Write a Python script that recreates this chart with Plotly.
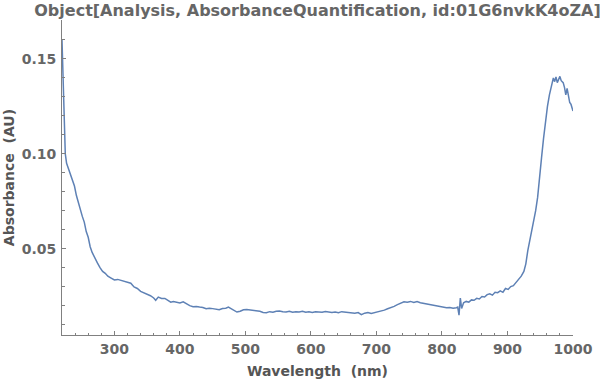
import plotly.graph_objects as go

wavelength_nm = [
    220, 221, 222, 223, 224, 225, 227, 230, 233, 236, 239, 242, 245, 248, 251, 254, 257, 260,
    263, 266, 270, 274, 278, 282, 286, 290, 295, 300, 305, 310, 315, 320, 325, 330, 335, 340,
    345, 350, 355, 360, 363, 367, 372, 377, 382, 386, 390, 395, 400, 405, 410, 415, 420, 425,
    430, 435, 440, 445, 450, 455, 460, 465, 470, 474, 478, 482, 487, 492, 497, 502, 507, 512,
    517, 522, 527, 532, 537, 542, 547, 552, 557, 562, 567, 572, 577, 582, 587, 592, 597, 602,
    607, 612, 617, 622, 627, 632, 637, 642, 647, 652, 657, 662, 667, 672, 677, 682, 687, 692,
    697, 702, 707, 712, 717, 722, 727, 732, 737, 742, 747, 752, 757, 762, 767, 772, 777, 782,
    787, 792, 797, 802, 807, 812, 817, 822, 824, 826, 828, 830, 833, 837, 841, 845, 849, 853,
    857, 861, 865, 869, 873, 877, 881, 885, 889, 893, 897, 901, 905, 909, 913, 917, 921, 925,
    928, 931, 934, 937, 940, 943, 946, 949, 952, 955, 958, 961, 964, 967, 970, 972, 974, 976,
    978, 980, 982, 985, 987, 989, 991, 993, 995, 997, 1000,
]

absorbance_au = [
    0.160, 0.148, 0.136, 0.120, 0.108, 0.100, 0.095, 0.092, 0.089, 0.086, 0.083, 0.078, 0.074,
    0.071, 0.067, 0.064, 0.059, 0.056, 0.051, 0.048, 0.045, 0.0425, 0.040, 0.038, 0.037, 0.0355,
    0.0345, 0.0335, 0.0338, 0.0332, 0.0330, 0.0322, 0.0318, 0.0298, 0.0290, 0.0275, 0.0268,
    0.0262, 0.0252, 0.0240, 0.0228, 0.0245, 0.0238, 0.0238, 0.0228, 0.0218, 0.0222, 0.0219,
    0.0214, 0.0220, 0.0208, 0.0200, 0.0194, 0.0195, 0.0192, 0.0190, 0.0183, 0.0186, 0.0184,
    0.0180, 0.0178, 0.0185, 0.0186, 0.0192, 0.0184, 0.0175, 0.0166, 0.0170, 0.0178, 0.0179,
    0.0177, 0.0174, 0.0172, 0.0170, 0.0164, 0.0162, 0.0168, 0.0165, 0.0170, 0.0172, 0.0168,
    0.0166, 0.0170, 0.0165, 0.0168, 0.0166, 0.0170, 0.0165, 0.0167, 0.0164, 0.0168, 0.0166,
    0.0165, 0.0169, 0.0167, 0.0163, 0.0166, 0.0162, 0.0168, 0.0166, 0.0164, 0.0165, 0.0160,
    0.0163, 0.0152, 0.0160, 0.0164, 0.0158, 0.0162, 0.0166, 0.0170, 0.0176, 0.0183, 0.0188,
    0.0196, 0.0205, 0.0214, 0.0220, 0.0218, 0.0222, 0.0216, 0.0221, 0.0215, 0.0212, 0.0208,
    0.0205, 0.0202, 0.0198, 0.0195, 0.0192, 0.0188, 0.0190, 0.0186, 0.0189, 0.0192, 0.0150,
    0.0240, 0.0185, 0.0215, 0.0222, 0.0218, 0.0230, 0.0228, 0.0238, 0.0235, 0.0248, 0.0245,
    0.0258, 0.0262, 0.0255, 0.0270, 0.0268, 0.0278, 0.0270, 0.0290, 0.0285, 0.0300, 0.0305,
    0.0320, 0.0335, 0.0355, 0.0380, 0.0420, 0.0490, 0.0540, 0.0590, 0.0640, 0.0700, 0.0770,
    0.0860, 0.0980, 0.1080, 0.1170, 0.1250, 0.1310, 0.1355, 0.1400, 0.1380, 0.1405, 0.1375,
    0.1390, 0.1408, 0.1385, 0.1375, 0.1350, 0.1310, 0.1345, 0.1300, 0.1270, 0.1260, 0.1225,
]

x_tick_values = [300, 400, 500, 600, 700, 800, 900, 1000]
x_tick_labels = ["300", "400", "500", "600", "700", "800", "900", "1000"]
y_tick_values = [0.05, 0.10, 0.15]
y_tick_labels = ["0.05", "0.10", "0.15"]

title_text = "Object[Analysis, AbsorbanceQuantification, id:01G6nvkK4oZA]"
x_title = "Wavelength\u00a0 (nm)"
y_title = "Absorbance\u00a0 (AU)"

LABEL = "#666666"
AXIS = "#808080"
FONT = "DejaVu Sans, sans-serif"

fig = go.Figure()
fig.add_trace(go.Scatter(
    x=wavelength_nm, y=absorbance_au, mode="lines",
    line=dict(color="#5E81B5", width=1.5),
    showlegend=False,
))

fig.update_layout(
    width=600, height=381,
    margin=dict(l=62, r=27, t=20, b=46),
    paper_bgcolor="white", plot_bgcolor="white",
    font=dict(family=FONT, color=LABEL),
    title=dict(
        text="<b>" + title_text + "</b>",
        font=dict(family=FONT, size=16, color=LABEL),
        x=0.5, xref="paper", xanchor="center",
        y=1 - 10 / 381, yref="container", yanchor="middle",
    ),
)

fig.update_xaxes(
    range=[220, 1000], automargin=False,
    showgrid=False, zeroline=False,
    showline=True, linecolor=AXIS, linewidth=1,
    ticks="inside", ticklen=4, tickcolor=AXIS, tickwidth=1,
    tickvals=x_tick_values, ticktext=["<b>" + t + "</b>" for t in x_tick_labels],
    tickfont=dict(family=FONT, size=14, color=LABEL),
    ticklabelstandoff=1,
    minor=dict(dtick=20, tick0=220, ticks="inside", ticklen=2.5, tickcolor=AXIS, showgrid=False),
    title=dict(text="<b>" + x_title + "</b>", font=dict(family=FONT, size=14, color="#555555"), standoff=10),
)
fig.update_yaxes(
    range=[0.0045, 0.1705], automargin=False,
    showgrid=False, zeroline=False,
    showline=True, linecolor=AXIS, linewidth=1,
    ticks="inside", ticklen=4, tickcolor=AXIS, tickwidth=1,
    tickvals=y_tick_values, ticktext=["<b>" + t + "</b>" for t in y_tick_labels],
    tickfont=dict(family=FONT, size=14, color=LABEL),
    ticklabelstandoff=2,
    minor=dict(dtick=0.01, tick0=0.0, ticks="inside", ticklen=2.5, tickcolor=AXIS, showgrid=False),
    title=dict(text="<b>" + y_title + "</b>", font=dict(family=FONT, size=14, color="#555555"), standoff=3),
)

fig.write_html(
    "out.html",
    config={"displayModeBar": False},
    post_script="document.body.style.margin='0';document.body.style.overflow='hidden';",
)
